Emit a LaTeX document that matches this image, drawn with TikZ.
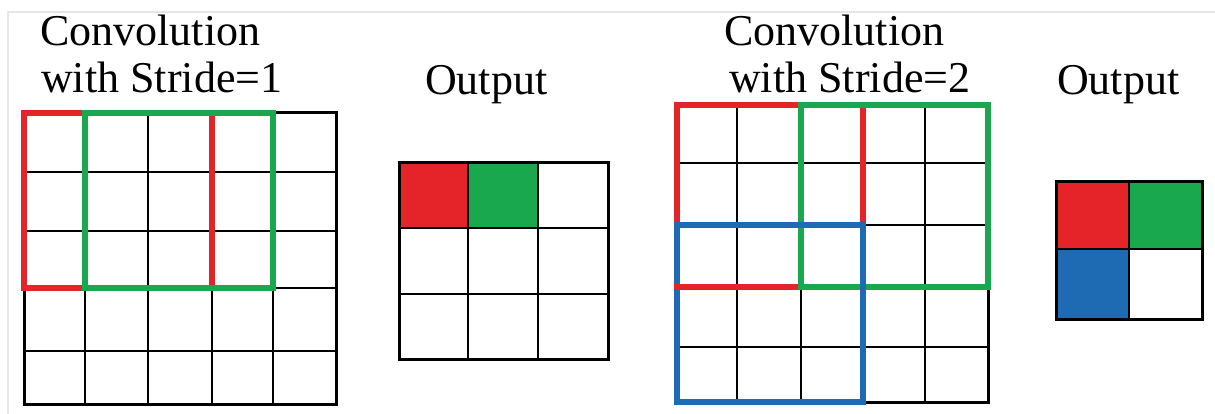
\documentclass[tikz,border=0pt]{standalone}
\usepackage{fontspec}
\newfontfamily\timesfont{Liberation Serif}
\definecolor{kred}{HTML}{E5242A}
\definecolor{kgreen}{HTML}{1AA84F}
\definecolor{kblue}{HTML}{1E6BB4}
\definecolor{frame}{HTML}{E6E6E6}
\tikzset{
  gridin/.style={line width=2.2pt, black},
  gridout/.style={line width=3pt, black},
  win/.style={line width=6.5pt},
  lbl/.style={anchor=base west, inner sep=0pt, font=\timesfont\fontsize{44}{47}\selectfont},
}
\begin{document}
\begin{tikzpicture}[x=1pt,y=-1pt]
\useasboundingbox (0,0) rectangle (1215,414);
\fill[white] (0,0) rectangle (1215,414);
% light frame
\draw[frame, line width=1.5pt] (8,414) -- (8,12) -- (1215,12);

% titles
\node[lbl] (t1a) at (40,46) {Convolution};
\node[lbl] (t1b) at (41,93) {with Stride=1};
\node[lbl] (o1)  at (425,95) {Output};
\node[lbl] (t2a) at (724,46) {Convolution};
\node[lbl] (t2b) at (729,93) {with Stride=2};
\node[lbl] (o2)  at (1057,95) {Output};

% ---- left input grid 5x5
\foreach \x in {85,148,212,273} \draw[gridin] (\x,113) -- (\x,404);
\foreach \y in {172,231,288,351} \draw[gridin] (24,\y) -- (336,\y);
\draw[gridout] (24,113) rectangle (336,404);
\draw[win, kred] (24,113) rectangle (212,288);
\draw[win, kgreen] (85,113) rectangle (273,288);

% ---- output 3x3
\fill[kred] (399,163) rectangle (468,228);
\fill[kgreen] (468,163) rectangle (538,228);
\foreach \x in {468,538} \draw[gridin] (\x,163) -- (\x,359);
\foreach \y in {228,294} \draw[gridin] (399,\y) -- (608,\y);
\draw[gridout] (399,163) rectangle (608,359);

% ---- right input grid 5x5
\foreach \x in {737,801,863,925} \draw[gridin] (\x,105) -- (\x,402);
\foreach \y in {163,225,287,347} \draw[gridin] (677,\y) -- (988,\y);
\draw[gridout] (677,105) rectangle (988,402);
\draw[win, kred] (677,105) rectangle (863,287);
\draw[win, kgreen] (801,105) rectangle (988,287);
\draw[win, kblue] (677,225) rectangle (863,402);
\draw[win, kred] (673.75,287) -- (798,287);

% ---- output 2x2
\fill[kred] (1056,182) rectangle (1129,249);
\fill[kgreen] (1129,182) rectangle (1202,249);
\fill[kblue] (1056,249) rectangle (1129,319);
\draw[gridin] (1129,182) -- (1129,319);
\draw[gridin] (1056,249) -- (1202,249);
\draw[gridout] (1056,182) rectangle (1202,319);
\end{tikzpicture}
\end{document}
